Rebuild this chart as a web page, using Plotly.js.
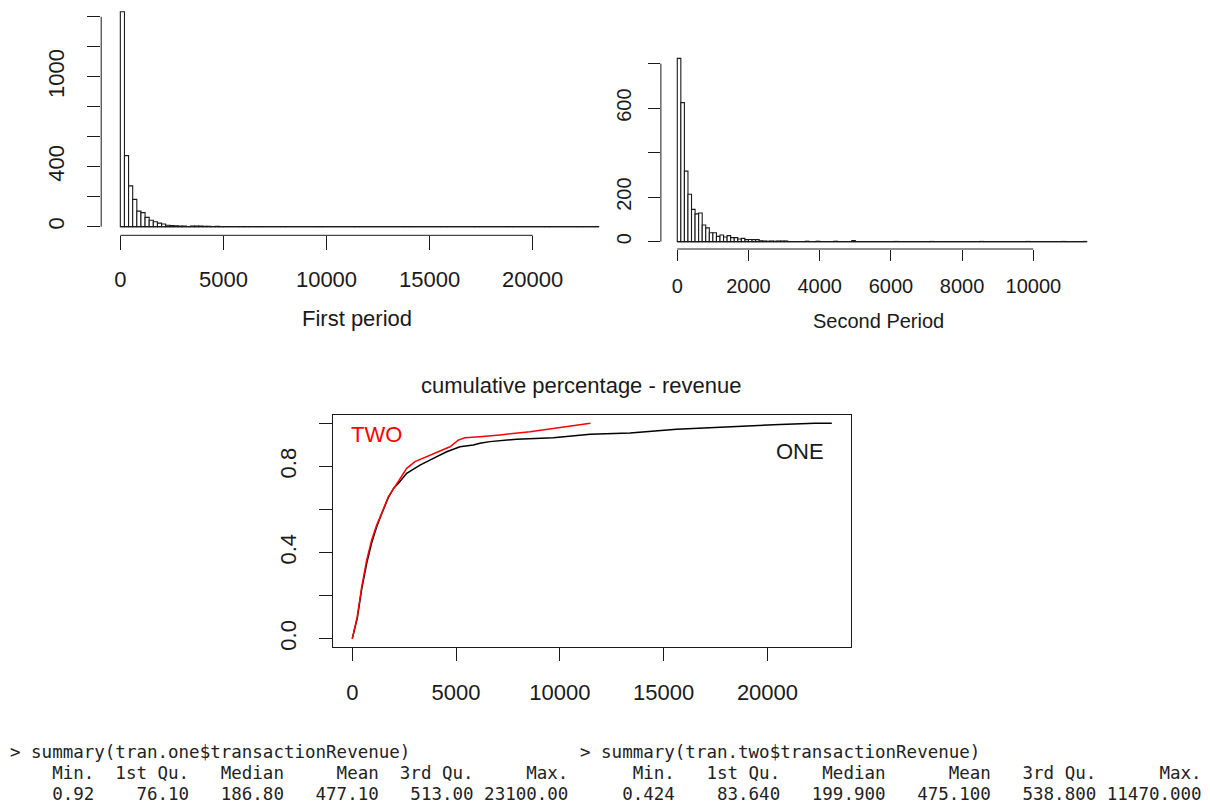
<!DOCTYPE html>
<html><head><meta charset="utf-8">
<script src="https://cdn.plot.ly/plotly-3.0.1.min.js"></script>
<style>html,body{margin:0;padding:0;background:#fff;} #chart{width:1210px;height:803px;}</style>
</head><body><div id="chart"></div>
<script>
// ---------- data ----------
const binWidth1 = 200;
const counts1 = [
 1433, 474, 272, 182, 104, 94, 62, 43, 33, 24,
 18, 10, 8, 6, 5, 4, 0, 5, 4, 4,
 2, 2, 1, 2, 1, 1, 0, 0, 0, 1,
 1, 0, 0, 1, 0, 0, 0, 0, 0, 1,
 0, 0, 0, 0, 0, 0, 0, 0, 1, 0,
 0, 0, 0, 0, 0, 0, 0, 1, 0, 0,
 0, 0, 0, 0, 0, 0, 0, 0, 0, 1,
 0, 0, 0, 0, 0, 0, 0, 0, 1, 0,
 0, 0, 0, 0, 0, 0, 1, 0, 0, 0,
 0, 0, 0, 0, 1, 0, 0, 0, 0, 0,
 0, 0, 0, 1, 0, 0, 0, 0, 0, 0,
 0, 1, 0, 0, 0, 1];
const binWidth2 = 100;
const counts2 = [
 824, 625, 317, 213, 145, 125, 129, 75, 62, 40,
 40, 24, 30, 21, 27, 18, 18, 12, 15, 9,
 10, 9, 9, 4, 3, 2, 3, 2, 3, 3,
 3, 0, 0, 0, 0, 0, 2, 0, 0, 2,
 0, 0, 0, 0, 2, 0, 0, 0, 0, 5,
 0, 0, 0, 0, 0, 0, 0, 0, 0, 0,
 0, 1, 0, 0, 0, 0, 0, 0, 0, 0,
 0, 1, 0, 0, 0, 0, 0, 0, 0, 0,
 0, 0, 0, 0, 0, 1, 0, 0, 0, 0,
 0, 0, 0, 0, 0, 0, 0, 0, 1, 0,
 0, 0, 0, 0, 0, 0, 0, 0, 1, 0,
 0, 0, 0, 0, 1];

const xTicks1 = [0, 5000, 10000, 15000, 20000];
const yTicks1 = [0, 200, 400, 600, 800, 1000, 1200, 1400];
const yLabels1 = ["0", "", "400", "", "", "1000", "", ""];
const xTicks2 = [0, 2000, 4000, 6000, 8000, 10000];
const yTicks2 = [0, 200, 400, 600, 800];
const yLabels2 = ["0", "200", "", "600", ""];
const xTicks3 = [0, 5000, 10000, 15000, 20000];
const yTicks3 = [0, 0.2, 0.4, 0.6, 0.8, 1.0];
const yLabels3 = ["0.0", "", "0.4", "", "0.8", ""];

const oneX = [0, 241, 453, 694, 934, 1175, 1416, 1734, 2000, 2216, 2620, 3262, 3904, 4547, 5188, 5829, 6151, 6633, 7919, 9682, 11464, 13382, 15626, 17389, 18998, 20602, 22288, 23100];
const oneY = [0, 0.095, 0.23, 0.35, 0.445, 0.52, 0.58, 0.655, 0.70, 0.721, 0.768, 0.806, 0.837, 0.868, 0.891, 0.899, 0.907, 0.915, 0.926, 0.933, 0.949, 0.955, 0.972, 0.981, 0.989, 0.995, 1.0, 1.0];
const twoX = [0, 241, 453, 694, 934, 1175, 1416, 1734, 2057, 2298, 2620, 3020, 3584, 4224, 4706, 5106, 5428, 6151, 6633, 7115, 8560, 9846, 10809, 11470];
const twoY = [0, 0.102, 0.241, 0.365, 0.458, 0.528, 0.582, 0.659, 0.706, 0.745, 0.791, 0.822, 0.845, 0.868, 0.891, 0.922, 0.933, 0.938, 0.941, 0.946, 0.961, 0.977, 0.992, 1.0];

const titleOne = "First period";
const titleTwo = "Second Period";
const titleMain = "cumulative percentage - revenue";
const labelOne = "ONE", labelTwo = "TWO";

const summaryNames = ["Min.", "1st Qu.", "Median", "Mean", "3rd Qu.", "Max."];
const summaryOne = ["0.92", "76.10", "186.80", "477.10", "513.00", "23100.00"];
const summaryTwo = ["0.424", "83.640", "199.900", "475.100", "538.800", "11470.000"];
const promptOne = "> summary(tran.one$transactionRevenue)";
const promptTwo = "> summary(tran.two$transactionRevenue)";

// ---------- helpers ----------
const W = 1210, H = 803;
const dx = (a, b) => [a / W, b / W];
const dy = (top, bottom) => [1 - bottom / H, 1 - top / H];
const pad = (lo, hi) => [lo - 0.04 * (hi - lo), hi + 0.04 * (hi - lo)];
const padL = (s, n) => { while (s.length < n) s = ' ' + s; return s; };
const nb = s => s.replace(/ /g, '\u00a0');
function summaryLines(names, vals) {
  const w = Math.max(...names.map(s => s.length), ...vals.map(s => s.length));
  return [names.map(s => padL(s, w)).join(' '), vals.map(s => padL(s, w)).join(' ')];
}

const INK = '#1a1a1a';
const FONT = 'Liberation Sans, Arial, sans-serif';

const traces = [];
function histTrace(counts, bw, xa, ya) {
  traces.push({
    type: 'bar', x: counts.map((c, i) => (i + 0.5) * bw), y: counts, width: bw,
    marker: {color: '#ffffff', line: {color: INK, width: 1.1}},
    xaxis: xa, yaxis: ya, hoverinfo: 'skip', showlegend: false
  });
  traces.push({
    type: 'scatter', mode: 'lines', x: [0, counts.length * bw], y: [0, 0],
    line: {color: INK, width: 1.2}, xaxis: xa, yaxis: ya, hoverinfo: 'skip', showlegend: false
  });
}
histTrace(counts1, binWidth1, 'x', 'y');
histTrace(counts2, binWidth2, 'x2', 'y2');
traces.push({type: 'scatter', mode: 'lines', x: oneX, y: oneY, line: {color: '#000000', width: 1.5},
  xaxis: 'x3', yaxis: 'y3', showlegend: false, hoverinfo: 'skip'});
traces.push({type: 'scatter', mode: 'lines', x: twoX, y: twoY, line: {color: '#ff0000', width: 1.5},
  xaxis: 'x3', yaxis: 'y3', showlegend: false, hoverinfo: 'skip'});

const base = {showgrid: false, zeroline: false, ticks: 'outside', tickcolor: INK, tickwidth: 1,
  showline: false, automargin: false, fixedrange: true, tickmode: 'array'};

const layout = {
  width: W, height: H, margin: {l: 0, r: 0, t: 0, b: 0},
  paper_bgcolor: '#fff', plot_bgcolor: 'rgba(0,0,0,0)',
  font: {family: FONT, color: INK}, showlegend: false, bargap: 0,
  xaxis: Object.assign({}, base, {domain: dx(101.2, 617.8), range: pad(0, counts1.length * binWidth1), anchor: 'y',
    tickvals: xTicks1, ticktext: xTicks1.map(String), ticklen: 14, tickfont: {size: 22}, ticklabelstandoff: 10}),
  yaxis: Object.assign({}, base, {domain: dy(3.2, 235.3), range: pad(0, Math.max(...counts1)), anchor: 'x',
    tickvals: yTicks1, ticktext: yLabels1, ticklen: 13, tickangle: -90, tickfont: {size: 22}, ticklabelstandoff: 14}),
  xaxis2: Object.assign({}, base, {domain: dx(660.9, 1103.1), range: pad(0, counts2.length * binWidth2), anchor: 'y2',
    tickvals: xTicks2, ticktext: xTicks2.map(String), ticklen: 11, tickfont: {size: 20}, ticklabelstandoff: 8}),
  yaxis2: Object.assign({}, base, {domain: dy(51.0, 249.0), range: pad(0, Math.max(...counts2)), anchor: 'x2',
    tickvals: yTicks2, ticktext: yLabels2, ticklen: 12, tickangle: -90, tickfont: {size: 20}, ticklabelstandoff: 9}),
  xaxis3: Object.assign({}, base, {domain: dx(333.1, 851.0), range: pad(0, 23100), anchor: 'y3',
    tickvals: xTicks3, ticktext: xTicks3.map(String), ticklen: 13, tickfont: {size: 22}, ticklabelstandoff: 12,
    showline: true, mirror: true, linecolor: INK, linewidth: 1}),
  yaxis3: Object.assign({}, base, {domain: dy(414.7, 647.3), range: pad(0, 1), anchor: 'x3',
    tickvals: yTicks3, ticktext: yLabels3, ticklen: 13, tickangle: -90, tickfont: {size: 22}, ticklabelstandoff: 14,
    showline: true, mirror: true, linecolor: INK, linewidth: 1}),
  shapes: [
    {type: 'line', xref: 'x', yref: 'y domain', x0: xTicks1[0], x1: xTicks1[xTicks1.length - 1], y0: 0, y1: 0, line: {color: INK, width: 1}},
    {type: 'line', xref: 'x domain', yref: 'y', x0: 0, x1: 0, y0: yTicks1[0], y1: yTicks1[yTicks1.length - 1], line: {color: INK, width: 1}},
    {type: 'line', xref: 'x2', yref: 'y2 domain', x0: xTicks2[0], x1: xTicks2[xTicks2.length - 1], y0: 0, y1: 0, line: {color: INK, width: 1}},
    {type: 'line', xref: 'x2 domain', yref: 'y2', x0: 0, x1: 0, y0: yTicks2[0], y1: yTicks2[yTicks2.length - 1], line: {color: INK, width: 1}}
  ],
  annotations: []
};

const A = layout.annotations;
function ptext(text, xpx, ypx, size, opts) {
  A.push(Object.assign({text: text, xref: 'paper', yref: 'paper', x: xpx / W, y: 1 - ypx / H,
    xanchor: 'center', yanchor: 'middle', showarrow: false, font: {size: size, family: FONT, color: INK}}, opts || {}));
}
ptext(titleOne, 357, 318, 22);
ptext(titleTwo, 878, 321, 20);
ptext(titleMain, 581, 386, 22);
A.push({text: labelTwo, xref: 'x3', yref: 'y3', x: 1190, y: 0.946, showarrow: false, xanchor: 'center', yanchor: 'middle',
  font: {size: 22, family: FONT, color: '#ff0000'}});
A.push({text: labelOne, xref: 'x3', yref: 'y3', x: 21566, y: 0.871, showarrow: false, xanchor: 'center', yanchor: 'middle',
  font: {size: 22, family: FONT, color: INK}});

const MONO = 'DejaVu Sans Mono, Liberation Mono, monospace';
const linesOne = [promptOne].concat(summaryLines(summaryNames, summaryOne));
const linesTwo = [promptTwo].concat(summaryLines(summaryNames, summaryTwo));
const lineY = [752, 773, 794];
linesOne.forEach((t, i) => ptext(nb(t), 8, lineY[i], 17.5, {xanchor: 'left', font: {size: 17.5, family: MONO, color: '#222'}}));
linesTwo.forEach((t, i) => ptext(nb(t), 578, lineY[i], 17.5, {xanchor: 'left', font: {size: 17.5, family: MONO, color: '#222'}}));

Plotly.newPlot('chart', traces, layout, {staticPlot: true, displayModeBar: false});
</script></body></html>
